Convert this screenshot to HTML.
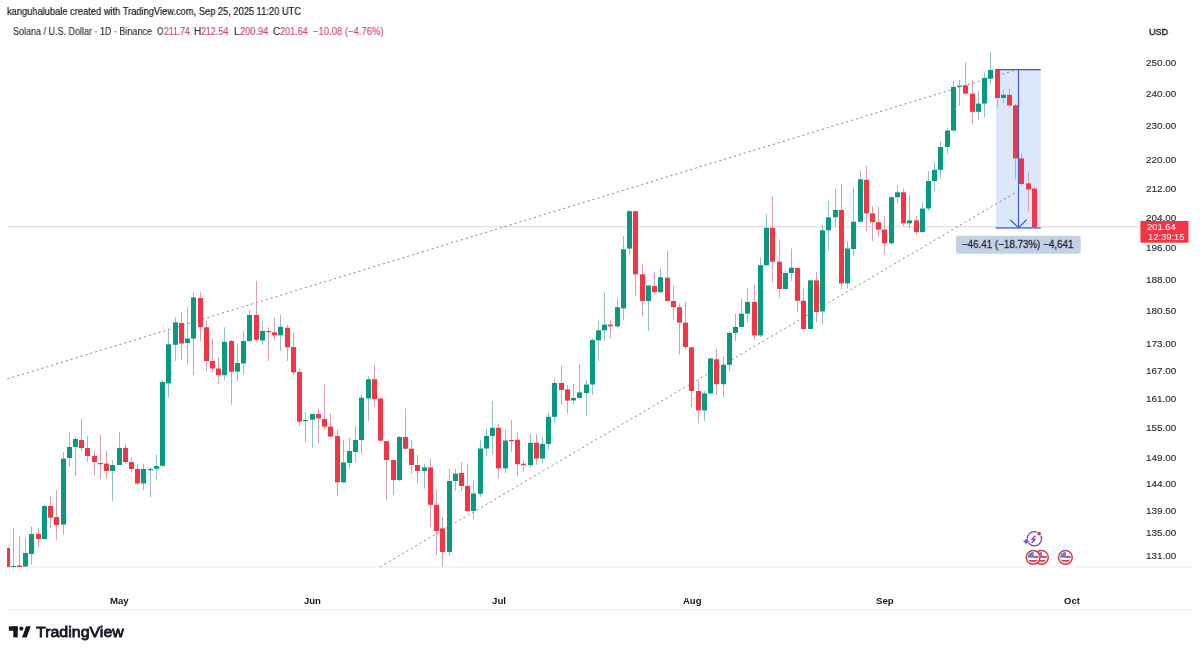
<!DOCTYPE html>
<html><head><meta charset="utf-8">
<style>
html,body{margin:0;padding:0;background:#fff;}
body{width:1200px;height:654px;position:relative;overflow:hidden;font-family:"Liberation Sans",sans-serif;color:#131722;}
.t{position:absolute;white-space:nowrap;line-height:1;transform-origin:0 0;will-change:transform;}
svg{position:absolute;left:0;top:0;}
</style></head>
<body>
<svg width="1200" height="654" viewBox="0 0 1200 654">
<defs><clipPath id="pane"><rect x="7" y="0" width="1133" height="567"/></clipPath></defs>
<rect x="7" y="566.5" width="1185" height="1" fill="#ebebeb"/>
<rect x="7" y="609.3" width="1185" height="1" fill="#ebebeb"/>
<rect x="8" y="226.2" width="1132" height="1" fill="#d9d9d9"/>
<rect x="996" y="69.5" width="44.7" height="158.5" fill="#dde7fb"/>
<line x1="7.3" y1="379" x2="1016" y2="70" stroke="#8e8e8e" stroke-width="1" stroke-dasharray="2.2 2.9"/>
<line x1="380" y1="567" x2="1016" y2="192.3" stroke="#8e8e8e" stroke-width="1" stroke-dasharray="2.2 2.9"/>
<g clip-path="url(#pane)">
<rect x="7" y="548.0" width="1" height="19.0" fill="#d8a2ad"/>
<rect x="5" y="548.0" width="5" height="19.0" fill="#f23645"/>
<rect x="13" y="528.0" width="1" height="39.0" fill="#93c4b7"/>
<rect x="11" y="566.0" width="5" height="1.2" fill="#089981"/>
<rect x="19" y="536.0" width="1" height="31.0" fill="#d8a2ad"/>
<rect x="17" y="565.5" width="5" height="1.5" fill="#f23645"/>
<rect x="25" y="538.0" width="1" height="29.0" fill="#93c4b7"/>
<rect x="23" y="553.0" width="5" height="13.5" fill="#089981"/>
<rect x="31" y="526.6" width="1" height="37.9" fill="#93c4b7"/>
<rect x="29" y="534.0" width="5" height="20.0" fill="#089981"/>
<rect x="38" y="528.0" width="1" height="19.0" fill="#d8a2ad"/>
<rect x="36" y="534.0" width="5" height="5.0" fill="#f23645"/>
<rect x="44" y="505.0" width="1" height="34.6" fill="#93c4b7"/>
<rect x="42" y="506.0" width="5" height="33.0" fill="#089981"/>
<rect x="50" y="496.0" width="1" height="32.0" fill="#d8a2ad"/>
<rect x="48" y="506.0" width="5" height="11.6" fill="#f23645"/>
<rect x="56" y="490.0" width="1" height="49.6" fill="#d8a2ad"/>
<rect x="54" y="517.0" width="5" height="8.0" fill="#f23645"/>
<rect x="63" y="452.0" width="1" height="82.6" fill="#93c4b7"/>
<rect x="61" y="458.6" width="5" height="66.0" fill="#089981"/>
<rect x="69" y="432.0" width="1" height="35.0" fill="#93c4b7"/>
<rect x="67" y="447.0" width="5" height="11.0" fill="#089981"/>
<rect x="75" y="437.0" width="1" height="39.0" fill="#93c4b7"/>
<rect x="73" y="439.0" width="5" height="8.0" fill="#089981"/>
<rect x="81" y="418.7" width="1" height="32.3" fill="#d8a2ad"/>
<rect x="79" y="440.0" width="5" height="8.0" fill="#f23645"/>
<rect x="87" y="436.0" width="1" height="26.0" fill="#d8a2ad"/>
<rect x="85" y="448.0" width="5" height="8.0" fill="#f23645"/>
<rect x="94" y="451.0" width="1" height="24.0" fill="#d8a2ad"/>
<rect x="92" y="456.0" width="5" height="6.0" fill="#f23645"/>
<rect x="100" y="435.0" width="1" height="44.0" fill="#d8a2ad"/>
<rect x="98" y="463.0" width="5" height="1.2" fill="#f23645"/>
<rect x="106" y="451.0" width="1" height="27.5" fill="#d8a2ad"/>
<rect x="104" y="463.6" width="5" height="7.4" fill="#f23645"/>
<rect x="112" y="460.0" width="1" height="41.0" fill="#93c4b7"/>
<rect x="110" y="465.0" width="5" height="6.0" fill="#089981"/>
<rect x="119" y="432.0" width="1" height="33.0" fill="#93c4b7"/>
<rect x="117" y="448.0" width="5" height="17.0" fill="#089981"/>
<rect x="125" y="443.6" width="1" height="20.4" fill="#d8a2ad"/>
<rect x="123" y="448.0" width="5" height="14.0" fill="#f23645"/>
<rect x="131" y="457.0" width="1" height="15.0" fill="#d8a2ad"/>
<rect x="129" y="462.0" width="5" height="7.0" fill="#f23645"/>
<rect x="137" y="464.0" width="1" height="21.0" fill="#d8a2ad"/>
<rect x="135" y="469.0" width="5" height="14.5" fill="#f23645"/>
<rect x="143" y="463.6" width="1" height="26.4" fill="#93c4b7"/>
<rect x="141" y="469.0" width="5" height="14.5" fill="#089981"/>
<rect x="150" y="467.0" width="1" height="30.0" fill="#93c4b7"/>
<rect x="148" y="469.0" width="5" height="1.2" fill="#089981"/>
<rect x="156" y="454.6" width="1" height="25.1" fill="#93c4b7"/>
<rect x="154" y="466.0" width="5" height="2.7" fill="#089981"/>
<rect x="162" y="380.0" width="1" height="87.0" fill="#93c4b7"/>
<rect x="160" y="382.0" width="5" height="83.8" fill="#089981"/>
<rect x="168" y="328.6" width="1" height="68.4" fill="#93c4b7"/>
<rect x="166" y="344.3" width="5" height="39.1" fill="#089981"/>
<rect x="175" y="317.4" width="1" height="43.6" fill="#93c4b7"/>
<rect x="173" y="322.4" width="5" height="22.4" fill="#089981"/>
<rect x="181" y="312.4" width="1" height="47.3" fill="#d8a2ad"/>
<rect x="179" y="323.0" width="5" height="20.5" fill="#f23645"/>
<rect x="187" y="307.4" width="1" height="57.3" fill="#93c4b7"/>
<rect x="185" y="338.6" width="5" height="4.4" fill="#089981"/>
<rect x="193" y="292.5" width="1" height="82.2" fill="#93c4b7"/>
<rect x="191" y="297.4" width="5" height="41.2" fill="#089981"/>
<rect x="200" y="292.5" width="1" height="48.5" fill="#d8a2ad"/>
<rect x="198" y="298.0" width="5" height="29.3" fill="#f23645"/>
<rect x="206" y="321.0" width="1" height="50.0" fill="#d8a2ad"/>
<rect x="204" y="327.3" width="5" height="33.7" fill="#f23645"/>
<rect x="212" y="338.6" width="1" height="33.4" fill="#d8a2ad"/>
<rect x="210" y="361.0" width="5" height="7.5" fill="#f23645"/>
<rect x="218" y="357.0" width="1" height="26.4" fill="#d8a2ad"/>
<rect x="216" y="368.5" width="5" height="6.7" fill="#f23645"/>
<rect x="224" y="327.3" width="1" height="52.4" fill="#93c4b7"/>
<rect x="222" y="341.8" width="5" height="33.4" fill="#089981"/>
<rect x="231" y="339.8" width="1" height="64.8" fill="#d8a2ad"/>
<rect x="229" y="341.0" width="5" height="30.7" fill="#f23645"/>
<rect x="237" y="343.5" width="1" height="37.5" fill="#93c4b7"/>
<rect x="235" y="363.0" width="5" height="8.7" fill="#089981"/>
<rect x="243" y="331.0" width="1" height="43.7" fill="#93c4b7"/>
<rect x="241" y="341.0" width="5" height="22.5" fill="#089981"/>
<rect x="249" y="310.0" width="1" height="32.3" fill="#93c4b7"/>
<rect x="247" y="315.0" width="5" height="26.0" fill="#089981"/>
<rect x="256" y="281.0" width="1" height="61.3" fill="#d8a2ad"/>
<rect x="254" y="315.0" width="5" height="24.8" fill="#f23645"/>
<rect x="262" y="321.0" width="1" height="23.8" fill="#93c4b7"/>
<rect x="260" y="331.0" width="5" height="9.5" fill="#089981"/>
<rect x="268" y="327.3" width="1" height="33.7" fill="#d8a2ad"/>
<rect x="266" y="331.0" width="5" height="1.2" fill="#f23645"/>
<rect x="274" y="317.4" width="1" height="22.4" fill="#d8a2ad"/>
<rect x="272" y="332.3" width="5" height="3.0" fill="#f23645"/>
<rect x="280" y="315.0" width="1" height="36.0" fill="#93c4b7"/>
<rect x="278" y="326.8" width="5" height="8.5" fill="#089981"/>
<rect x="287" y="324.9" width="1" height="36.1" fill="#d8a2ad"/>
<rect x="285" y="327.8" width="5" height="19.5" fill="#f23645"/>
<rect x="293" y="332.5" width="1" height="42.3" fill="#d8a2ad"/>
<rect x="291" y="347.0" width="5" height="25.3" fill="#f23645"/>
<rect x="299" y="368.6" width="1" height="57.4" fill="#d8a2ad"/>
<rect x="297" y="371.8" width="5" height="49.9" fill="#f23645"/>
<rect x="305" y="412.0" width="1" height="30.0" fill="#93c4b7"/>
<rect x="303" y="420.0" width="5" height="1.2" fill="#089981"/>
<rect x="312" y="413.4" width="1" height="34.6" fill="#93c4b7"/>
<rect x="310" y="414.0" width="5" height="5.7" fill="#089981"/>
<rect x="318" y="408.5" width="1" height="34.8" fill="#d8a2ad"/>
<rect x="316" y="414.0" width="5" height="4.4" fill="#f23645"/>
<rect x="324" y="384.3" width="1" height="45.3" fill="#d8a2ad"/>
<rect x="322" y="419.0" width="5" height="7.6" fill="#f23645"/>
<rect x="330" y="413.4" width="1" height="23.6" fill="#d8a2ad"/>
<rect x="328" y="426.6" width="5" height="10.0" fill="#f23645"/>
<rect x="337" y="429.6" width="1" height="66.4" fill="#d8a2ad"/>
<rect x="335" y="436.0" width="5" height="46.3" fill="#f23645"/>
<rect x="343" y="439.6" width="1" height="43.4" fill="#93c4b7"/>
<rect x="341" y="462.4" width="5" height="19.9" fill="#089981"/>
<rect x="349" y="437.5" width="1" height="29.9" fill="#93c4b7"/>
<rect x="347" y="451.0" width="5" height="12.0" fill="#089981"/>
<rect x="355" y="426.0" width="1" height="36.4" fill="#93c4b7"/>
<rect x="353" y="440.0" width="5" height="12.0" fill="#089981"/>
<rect x="361" y="394.8" width="1" height="58.9" fill="#93c4b7"/>
<rect x="359" y="397.7" width="5" height="42.3" fill="#089981"/>
<rect x="368" y="376.0" width="1" height="45.0" fill="#93c4b7"/>
<rect x="366" y="379.3" width="5" height="19.2" fill="#089981"/>
<rect x="374" y="364.4" width="1" height="42.3" fill="#d8a2ad"/>
<rect x="372" y="379.3" width="5" height="19.9" fill="#f23645"/>
<rect x="380" y="397.2" width="1" height="44.4" fill="#d8a2ad"/>
<rect x="378" y="398.5" width="5" height="42.2" fill="#f23645"/>
<rect x="386" y="440.9" width="1" height="58.9" fill="#d8a2ad"/>
<rect x="384" y="441.2" width="5" height="18.8" fill="#f23645"/>
<rect x="393" y="460.0" width="1" height="34.8" fill="#d8a2ad"/>
<rect x="391" y="460.0" width="5" height="20.0" fill="#f23645"/>
<rect x="399" y="435.9" width="1" height="45.1" fill="#93c4b7"/>
<rect x="397" y="437.0" width="5" height="43.0" fill="#089981"/>
<rect x="405" y="408.5" width="1" height="41.1" fill="#d8a2ad"/>
<rect x="403" y="437.0" width="5" height="11.7" fill="#f23645"/>
<rect x="411" y="440.0" width="1" height="33.6" fill="#d8a2ad"/>
<rect x="409" y="448.7" width="5" height="16.3" fill="#f23645"/>
<rect x="417" y="455.0" width="1" height="28.6" fill="#d8a2ad"/>
<rect x="415" y="465.0" width="5" height="6.0" fill="#f23645"/>
<rect x="424" y="463.6" width="1" height="25.0" fill="#93c4b7"/>
<rect x="422" y="467.4" width="5" height="3.6" fill="#089981"/>
<rect x="430" y="458.7" width="1" height="68.3" fill="#d8a2ad"/>
<rect x="428" y="467.4" width="5" height="37.4" fill="#f23645"/>
<rect x="436" y="489.8" width="1" height="64.8" fill="#d8a2ad"/>
<rect x="434" y="504.8" width="5" height="26.2" fill="#f23645"/>
<rect x="442" y="517.0" width="1" height="50.0" fill="#d8a2ad"/>
<rect x="440" y="528.4" width="5" height="23.6" fill="#f23645"/>
<rect x="449" y="468.6" width="1" height="87.2" fill="#93c4b7"/>
<rect x="447" y="481.0" width="5" height="71.0" fill="#089981"/>
<rect x="455" y="468.6" width="1" height="22.4" fill="#93c4b7"/>
<rect x="453" y="473.6" width="5" height="7.4" fill="#089981"/>
<rect x="461" y="462.4" width="1" height="28.6" fill="#d8a2ad"/>
<rect x="459" y="472.9" width="5" height="13.1" fill="#f23645"/>
<rect x="467" y="463.6" width="1" height="48.6" fill="#d8a2ad"/>
<rect x="465" y="486.0" width="5" height="25.0" fill="#f23645"/>
<rect x="473" y="479.8" width="1" height="39.9" fill="#93c4b7"/>
<rect x="471" y="493.5" width="5" height="17.5" fill="#089981"/>
<rect x="480" y="439.8" width="1" height="57.2" fill="#93c4b7"/>
<rect x="478" y="448.5" width="5" height="45.3" fill="#089981"/>
<rect x="486" y="428.6" width="1" height="27.4" fill="#93c4b7"/>
<rect x="484" y="436.0" width="5" height="12.5" fill="#089981"/>
<rect x="492" y="401.0" width="1" height="53.7" fill="#93c4b7"/>
<rect x="490" y="427.8" width="5" height="8.2" fill="#089981"/>
<rect x="498" y="423.6" width="1" height="54.8" fill="#d8a2ad"/>
<rect x="496" y="427.8" width="5" height="40.6" fill="#f23645"/>
<rect x="505" y="429.8" width="1" height="43.6" fill="#93c4b7"/>
<rect x="503" y="440.5" width="5" height="27.9" fill="#089981"/>
<rect x="511" y="419.8" width="1" height="32.4" fill="#d8a2ad"/>
<rect x="509" y="440.0" width="5" height="1.2" fill="#f23645"/>
<rect x="517" y="432.3" width="1" height="43.7" fill="#d8a2ad"/>
<rect x="515" y="439.8" width="5" height="24.4" fill="#f23645"/>
<rect x="523" y="459.7" width="1" height="12.5" fill="#d8a2ad"/>
<rect x="521" y="463.7" width="5" height="1.5" fill="#f23645"/>
<rect x="530" y="433.5" width="1" height="33.7" fill="#93c4b7"/>
<rect x="528" y="442.8" width="5" height="22.4" fill="#089981"/>
<rect x="536" y="434.3" width="1" height="30.4" fill="#d8a2ad"/>
<rect x="534" y="442.8" width="5" height="15.7" fill="#f23645"/>
<rect x="542" y="436.8" width="1" height="26.6" fill="#93c4b7"/>
<rect x="540" y="444.0" width="5" height="14.5" fill="#089981"/>
<rect x="548" y="412.4" width="1" height="37.3" fill="#93c4b7"/>
<rect x="546" y="416.8" width="5" height="27.2" fill="#089981"/>
<rect x="554" y="378.7" width="1" height="43.6" fill="#93c4b7"/>
<rect x="552" y="383.0" width="5" height="33.8" fill="#089981"/>
<rect x="561" y="366.0" width="1" height="38.9" fill="#d8a2ad"/>
<rect x="559" y="383.0" width="5" height="7.0" fill="#f23645"/>
<rect x="567" y="385.0" width="1" height="28.6" fill="#d8a2ad"/>
<rect x="565" y="389.4" width="5" height="11.2" fill="#f23645"/>
<rect x="573" y="383.7" width="1" height="20.7" fill="#93c4b7"/>
<rect x="571" y="397.9" width="5" height="2.5" fill="#089981"/>
<rect x="579" y="364.0" width="1" height="34.7" fill="#93c4b7"/>
<rect x="577" y="392.4" width="5" height="5.5" fill="#089981"/>
<rect x="586" y="380.0" width="1" height="36.0" fill="#93c4b7"/>
<rect x="584" y="384.5" width="5" height="8.5" fill="#089981"/>
<rect x="592" y="338.0" width="1" height="57.0" fill="#93c4b7"/>
<rect x="590" y="340.0" width="5" height="44.5" fill="#089981"/>
<rect x="598" y="320.9" width="1" height="40.1" fill="#93c4b7"/>
<rect x="596" y="330.3" width="5" height="10.0" fill="#089981"/>
<rect x="604" y="293.4" width="1" height="47.4" fill="#93c4b7"/>
<rect x="602" y="324.6" width="5" height="5.7" fill="#089981"/>
<rect x="610" y="319.6" width="1" height="18.7" fill="#d8a2ad"/>
<rect x="608" y="324.6" width="5" height="1.7" fill="#f23645"/>
<rect x="617" y="298.4" width="1" height="29.9" fill="#93c4b7"/>
<rect x="615" y="307.2" width="5" height="19.1" fill="#089981"/>
<rect x="623" y="236.1" width="1" height="83.5" fill="#93c4b7"/>
<rect x="621" y="249.3" width="5" height="59.1" fill="#089981"/>
<rect x="629" y="210.0" width="1" height="44.8" fill="#93c4b7"/>
<rect x="627" y="211.2" width="5" height="37.4" fill="#089981"/>
<rect x="635" y="210.5" width="1" height="85.5" fill="#d8a2ad"/>
<rect x="633" y="211.2" width="5" height="63.1" fill="#f23645"/>
<rect x="642" y="263.5" width="1" height="52.4" fill="#d8a2ad"/>
<rect x="640" y="274.3" width="5" height="26.7" fill="#f23645"/>
<rect x="648" y="284.7" width="1" height="46.1" fill="#93c4b7"/>
<rect x="646" y="285.5" width="5" height="15.5" fill="#089981"/>
<rect x="654" y="272.3" width="1" height="22.4" fill="#d8a2ad"/>
<rect x="652" y="286.0" width="5" height="6.2" fill="#f23645"/>
<rect x="660" y="268.5" width="1" height="24.9" fill="#93c4b7"/>
<rect x="658" y="277.2" width="5" height="15.0" fill="#089981"/>
<rect x="667" y="251.0" width="1" height="51.2" fill="#d8a2ad"/>
<rect x="665" y="277.7" width="5" height="23.3" fill="#f23645"/>
<rect x="673" y="286.0" width="1" height="33.6" fill="#d8a2ad"/>
<rect x="671" y="301.0" width="5" height="6.2" fill="#f23645"/>
<rect x="679" y="303.4" width="1" height="51.1" fill="#d8a2ad"/>
<rect x="677" y="307.2" width="5" height="15.4" fill="#f23645"/>
<rect x="685" y="301.7" width="1" height="47.8" fill="#d8a2ad"/>
<rect x="683" y="322.6" width="5" height="24.4" fill="#f23645"/>
<rect x="691" y="346.8" width="1" height="60.2" fill="#d8a2ad"/>
<rect x="689" y="347.3" width="5" height="43.7" fill="#f23645"/>
<rect x="698" y="381.0" width="1" height="42.3" fill="#d8a2ad"/>
<rect x="696" y="391.0" width="5" height="19.4" fill="#f23645"/>
<rect x="704" y="391.0" width="1" height="29.8" fill="#93c4b7"/>
<rect x="702" y="393.4" width="5" height="17.0" fill="#089981"/>
<rect x="710" y="357.3" width="1" height="37.4" fill="#93c4b7"/>
<rect x="708" y="358.5" width="5" height="34.9" fill="#089981"/>
<rect x="716" y="348.6" width="1" height="46.1" fill="#d8a2ad"/>
<rect x="714" y="359.3" width="5" height="24.9" fill="#f23645"/>
<rect x="723" y="356.0" width="1" height="41.2" fill="#93c4b7"/>
<rect x="721" y="364.8" width="5" height="19.4" fill="#089981"/>
<rect x="729" y="331.0" width="1" height="40.0" fill="#93c4b7"/>
<rect x="727" y="332.9" width="5" height="31.9" fill="#089981"/>
<rect x="735" y="313.7" width="1" height="27.3" fill="#93c4b7"/>
<rect x="733" y="326.9" width="5" height="6.0" fill="#089981"/>
<rect x="741" y="298.7" width="1" height="28.7" fill="#93c4b7"/>
<rect x="739" y="313.7" width="5" height="13.2" fill="#089981"/>
<rect x="747" y="288.4" width="1" height="33.6" fill="#93c4b7"/>
<rect x="745" y="302.0" width="5" height="11.7" fill="#089981"/>
<rect x="754" y="284.6" width="1" height="55.2" fill="#d8a2ad"/>
<rect x="752" y="302.0" width="5" height="33.4" fill="#f23645"/>
<rect x="760" y="257.2" width="1" height="79.8" fill="#93c4b7"/>
<rect x="758" y="265.2" width="5" height="70.2" fill="#089981"/>
<rect x="766" y="214.4" width="1" height="51.6" fill="#93c4b7"/>
<rect x="764" y="227.8" width="5" height="37.4" fill="#089981"/>
<rect x="772" y="196.2" width="1" height="85.8" fill="#d8a2ad"/>
<rect x="770" y="227.8" width="5" height="33.9" fill="#f23645"/>
<rect x="779" y="240.3" width="1" height="57.3" fill="#d8a2ad"/>
<rect x="777" y="261.7" width="5" height="27.3" fill="#f23645"/>
<rect x="785" y="271.0" width="1" height="18.6" fill="#93c4b7"/>
<rect x="783" y="273.0" width="5" height="16.0" fill="#089981"/>
<rect x="791" y="248.5" width="1" height="32.5" fill="#93c4b7"/>
<rect x="789" y="267.7" width="5" height="5.3" fill="#089981"/>
<rect x="797" y="267.2" width="1" height="44.8" fill="#d8a2ad"/>
<rect x="795" y="268.0" width="5" height="32.8" fill="#f23645"/>
<rect x="803" y="288.4" width="1" height="41.1" fill="#d8a2ad"/>
<rect x="801" y="300.8" width="5" height="28.2" fill="#f23645"/>
<rect x="810" y="279.6" width="1" height="49.9" fill="#93c4b7"/>
<rect x="808" y="280.4" width="5" height="48.6" fill="#089981"/>
<rect x="816" y="272.2" width="1" height="49.8" fill="#d8a2ad"/>
<rect x="814" y="280.4" width="5" height="31.6" fill="#f23645"/>
<rect x="822" y="224.8" width="1" height="99.7" fill="#93c4b7"/>
<rect x="820" y="230.3" width="5" height="81.2" fill="#089981"/>
<rect x="828" y="201.1" width="1" height="49.9" fill="#93c4b7"/>
<rect x="826" y="217.3" width="5" height="13.0" fill="#089981"/>
<rect x="835" y="188.7" width="1" height="38.6" fill="#93c4b7"/>
<rect x="833" y="209.9" width="5" height="7.4" fill="#089981"/>
<rect x="841" y="183.7" width="1" height="105.9" fill="#d8a2ad"/>
<rect x="839" y="209.9" width="5" height="73.5" fill="#f23645"/>
<rect x="847" y="241.0" width="1" height="47.4" fill="#93c4b7"/>
<rect x="845" y="248.5" width="5" height="34.9" fill="#089981"/>
<rect x="853" y="187.3" width="1" height="68.5" fill="#93c4b7"/>
<rect x="851" y="221.7" width="5" height="27.3" fill="#089981"/>
<rect x="860" y="171.0" width="1" height="51.2" fill="#93c4b7"/>
<rect x="858" y="179.3" width="5" height="42.4" fill="#089981"/>
<rect x="866" y="166.0" width="1" height="65.0" fill="#d8a2ad"/>
<rect x="864" y="179.8" width="5" height="33.6" fill="#f23645"/>
<rect x="872" y="206.0" width="1" height="34.9" fill="#d8a2ad"/>
<rect x="870" y="213.4" width="5" height="8.8" fill="#f23645"/>
<rect x="878" y="207.2" width="1" height="29.8" fill="#d8a2ad"/>
<rect x="876" y="222.2" width="5" height="7.4" fill="#f23645"/>
<rect x="884" y="216.0" width="1" height="38.6" fill="#d8a2ad"/>
<rect x="882" y="229.6" width="5" height="13.7" fill="#f23645"/>
<rect x="891" y="196.0" width="1" height="48.6" fill="#93c4b7"/>
<rect x="889" y="197.2" width="5" height="46.1" fill="#089981"/>
<rect x="897" y="184.8" width="1" height="18.7" fill="#93c4b7"/>
<rect x="895" y="192.3" width="5" height="4.9" fill="#089981"/>
<rect x="903" y="188.5" width="1" height="37.5" fill="#d8a2ad"/>
<rect x="901" y="192.3" width="5" height="31.1" fill="#f23645"/>
<rect x="909" y="194.8" width="1" height="33.6" fill="#93c4b7"/>
<rect x="907" y="220.4" width="5" height="3.0" fill="#089981"/>
<rect x="916" y="216.0" width="1" height="18.6" fill="#d8a2ad"/>
<rect x="914" y="220.4" width="5" height="11.7" fill="#f23645"/>
<rect x="922" y="202.2" width="1" height="30.4" fill="#93c4b7"/>
<rect x="920" y="208.5" width="5" height="23.6" fill="#089981"/>
<rect x="928" y="171.0" width="1" height="40.0" fill="#93c4b7"/>
<rect x="926" y="181.0" width="5" height="27.5" fill="#089981"/>
<rect x="934" y="162.4" width="1" height="28.6" fill="#93c4b7"/>
<rect x="932" y="169.8" width="5" height="11.2" fill="#089981"/>
<rect x="940" y="141.2" width="1" height="36.1" fill="#93c4b7"/>
<rect x="938" y="147.0" width="5" height="22.8" fill="#089981"/>
<rect x="947" y="127.5" width="1" height="26.1" fill="#93c4b7"/>
<rect x="945" y="130.5" width="5" height="16.5" fill="#089981"/>
<rect x="953" y="81.0" width="1" height="50.7" fill="#93c4b7"/>
<rect x="951" y="86.9" width="5" height="43.6" fill="#089981"/>
<rect x="959" y="80.0" width="1" height="26.0" fill="#93c4b7"/>
<rect x="957" y="85.6" width="5" height="1.3" fill="#089981"/>
<rect x="965" y="62.4" width="1" height="32.4" fill="#d8a2ad"/>
<rect x="963" y="85.4" width="5" height="8.2" fill="#f23645"/>
<rect x="972" y="80.3" width="1" height="43.9" fill="#d8a2ad"/>
<rect x="970" y="93.6" width="5" height="18.2" fill="#f23645"/>
<rect x="978" y="91.0" width="1" height="28.8" fill="#93c4b7"/>
<rect x="976" y="103.6" width="5" height="8.2" fill="#089981"/>
<rect x="984" y="72.4" width="1" height="44.9" fill="#93c4b7"/>
<rect x="982" y="77.9" width="5" height="25.7" fill="#089981"/>
<rect x="990" y="52.0" width="1" height="32.6" fill="#93c4b7"/>
<rect x="988" y="70.0" width="5" height="8.6" fill="#089981"/>
<rect x="997" y="68.7" width="1" height="38.9" fill="#d8a2ad"/>
<rect x="995" y="69.4" width="5" height="28.6" fill="#f23645"/>
<rect x="1003" y="90.5" width="1" height="13.0" fill="#93c4b7"/>
<rect x="1001" y="94.8" width="5" height="3.2" fill="#089981"/>
<rect x="1009" y="88.5" width="1" height="18.8" fill="#d8a2ad"/>
<rect x="1007" y="94.8" width="5" height="10.6" fill="#f23645"/>
<rect x="1015" y="103.6" width="1" height="75.9" fill="#d8a2ad"/>
<rect x="1013" y="105.4" width="5" height="53.0" fill="#f23645"/>
<rect x="1021" y="153.7" width="1" height="32.3" fill="#d8a2ad"/>
<rect x="1019" y="158.4" width="5" height="25.6" fill="#f23645"/>
<rect x="1028" y="172.0" width="1" height="39.5" fill="#d8a2ad"/>
<rect x="1026" y="183.4" width="5" height="6.1" fill="#f23645"/>
<rect x="1034" y="186.7" width="1" height="40.3" fill="#d8a2ad"/>
<rect x="1032" y="188.6" width="5" height="38.4" fill="#f23645"/>
</g>
<rect x="995.5" y="69" width="45.2" height="1.3" fill="#3f5fcf"/>
<rect x="995.5" y="227.3" width="45.2" height="1.3" fill="#3f5fcf"/>
<rect x="1017.9" y="69.5" width="1.2" height="158" fill="#3f5fcf"/>
<polyline points="1010.2,219.7 1018.5,227.6 1026.6,219.7" fill="none" stroke="#3f5fcf" stroke-width="1.2"/>
<!-- TV logo -->
<g fill="#131722">
<rect x="8.8" y="626.3" width="8.9" height="4.4"/>
<rect x="13.3" y="626.3" width="4.4" height="11.1"/>
<circle cx="21.3" cy="628.6" r="2.05"/>
<polygon points="26.1,626.3 30.7,626.3 26.7,637.4 22,637.4"/>
</g>
<!-- events -->
<defs>
<clipPath id="fl1"><circle cx="0" cy="0" r="5.4"/></clipPath>
<g id="coin">
<circle cx="0" cy="0" r="6.9" fill="#fff" stroke="#d43a4c" stroke-width="1.5"/>
<g clip-path="url(#fl1)">
<rect x="-6" y="-6" width="12" height="12" fill="#fff"/>
<rect x="0" y="-1.4" width="6" height="2" fill="#e0404f"/>
<rect x="-6" y="2.6" width="12" height="1.9" fill="#e0404f"/>
<rect x="-6" y="-6" width="6.6" height="6.4" fill="#4a8bd6"/>
</g>
</g>
</defs>
<use href="#coin" x="1041.4" y="557.3"/>
<use href="#coin" x="1033.1" y="557.3"/>
<use href="#coin" x="1065.4" y="557.3"/>
<circle cx="1034.4" cy="538.7" r="7.1" fill="none" stroke="#7f3f9f" stroke-width="1.2"/>
<circle cx="1039.1" cy="533.6" r="2.6" fill="#fff"/>
<circle cx="1039.1" cy="533.6" r="1.9" fill="#d93a55"/>
<polyline points="1035.4,535.8 1032.0,539.3 1035.0,539.3 1031.6,542.8" fill="none" stroke="#8e3cc0" stroke-width="1.3" stroke-linejoin="miter"/>
<path d="M1026.2,537.6 Q1026.9,540.8 1030.1,541.5 Q1026.9,542.2 1026.2,545.4 Q1025.5,542.2 1022.3,541.5 Q1025.5,540.8 1026.2,537.6Z" fill="#6a4fe6" stroke="#fff" stroke-width="0.6"/>
<rect x="956" y="235.7" width="124.7" height="18" rx="2" fill="#c3d0e6"/>
<rect x="1140.4" y="220.9" width="48.1" height="21.8" fill="#f23645"/>
</svg>
<div id="h1" class="t" style="left:7.48px;top:6.97px;font-size:10.2px;font-weight:normal;-webkit-text-stroke:0.2px #131722;color:#131722;transform:scaleX(0.9135);">kanguhalubale created with TradingView.com, Sep 25, 2025 11:20 UTC</div>
<div id="h2a" class="t" style="left:12.67px;top:26.64px;font-size:10.0px;font-weight:normal;-webkit-text-stroke:0.15px #2f3241;color:#2f3241;transform:scaleX(0.8991);">Solana / U.S. Dollar · 1D · Binance</div>
<div id="h2o" class="t" style="left:156.73px;top:26.64px;font-size:10.0px;font-weight:normal;-webkit-text-stroke:0.15px #2f3241;color:#2f3241;transform:scaleX(0.8005);">O</div>
<div id="h2ov" class="t" style="left:163.56px;top:26.64px;font-size:10.0px;font-weight:normal;-webkit-text-stroke:0.15px #cf466c;color:#cf466c;transform:scaleX(0.8618);">211.74</div>
<div id="h2h" class="t" style="left:193.86px;top:26.64px;font-size:10.0px;font-weight:normal;-webkit-text-stroke:0.15px #2f3241;color:#2f3241;transform:scaleX(1.0116);">H</div>
<div id="h2hv" class="t" style="left:201.44px;top:26.64px;font-size:10.0px;font-weight:normal;-webkit-text-stroke:0.15px #cf466c;color:#cf466c;transform:scaleX(0.8920);">212.54</div>
<div id="h2l" class="t" style="left:233.66px;top:26.64px;font-size:10.0px;font-weight:normal;-webkit-text-stroke:0.15px #2f3241;color:#2f3241;transform:scaleX(1.0077);">L</div>
<div id="h2lv" class="t" style="left:239.53px;top:26.64px;font-size:10.0px;font-weight:normal;-webkit-text-stroke:0.15px #cf466c;color:#cf466c;transform:scaleX(0.9222);">200.94</div>
<div id="h2c" class="t" style="left:273.25px;top:26.64px;font-size:10.0px;font-weight:normal;-webkit-text-stroke:0.15px #2f3241;color:#2f3241;transform:scaleX(0.9896);">C</div>
<div id="h2cv" class="t" style="left:280.13px;top:26.64px;font-size:10.0px;font-weight:normal;-webkit-text-stroke:0.15px #cf466c;color:#cf466c;transform:scaleX(0.9088);">201.64</div>
<div id="h2d" class="t" style="left:312.83px;top:26.64px;font-size:10.0px;font-weight:normal;-webkit-text-stroke:0.15px #cf466c;color:#cf466c;transform:scaleX(0.9472);">−10.08 (−4.76%)</div>
<div id="usd" class="t" style="left:1148.53px;top:27.30px;font-size:9.8px;font-weight:normal;-webkit-text-stroke:0.35px #131722;color:#131722;transform:scaleX(0.9281);">USD</div>
<div id="may" class="t" style="left:109.65px;top:596.46px;font-size:9.5px;font-weight:bold;color:#131722;transform:scaleX(1.0087);">May</div>
<div id="jun" class="t" style="left:303.78px;top:596.46px;font-size:9.5px;font-weight:bold;color:#131722;transform:scaleX(1.0000);">Jun</div>
<div id="jul" class="t" style="left:491.77px;top:596.46px;font-size:9.5px;font-weight:bold;color:#131722;transform:scaleX(1.0213);">Jul</div>
<div id="aug" class="t" style="left:682.76px;top:596.46px;font-size:9.5px;font-weight:bold;color:#131722;transform:scaleX(0.9755);">Aug</div>
<div id="sep" class="t" style="left:875.90px;top:596.46px;font-size:9.5px;font-weight:bold;color:#131722;transform:scaleX(1.0148);">Sep</div>
<div id="oct" class="t" style="left:1063.51px;top:596.46px;font-size:9.5px;font-weight:bold;color:#131722;transform:scaleX(0.9966);">Oct</div>
<div id="tv" class="t" style="left:36.09px;top:624.15px;font-size:15.3px;font-weight:normal;-webkit-text-stroke:0.8px #131722;color:#131722;transform:scaleX(1.0429);">TradingView</div>
<div id="meas" class="t" style="left:962.23px;top:239.16px;font-size:10.8px;font-weight:normal;-webkit-text-stroke:0.3px #1e2230;color:#1e2230;transform:scaleX(0.9074);">−46.41 (−18.73%) −4,641</div>
<div id="tag1" class="t" style="left:1146.80px;top:221.94px;font-size:9.4px;font-weight:normal;color:#ffffff;transform:scaleX(1.0000);">201.64</div>
<div id="tag2" class="t" style="left:1147.70px;top:232.14px;font-size:9.4px;font-weight:normal;color:#ffffff;transform:scaleX(1.0000);">12:39:15</div>
<div id="pl" class="t" style="left:1146.10px;top:57.79px;font-size:9.9px;font-weight:normal;-webkit-text-stroke:0.15px #2a2e39;color:#2a2e39;transform:scaleX(1.0039);">250.00</div>
<div id="pl240" class="t" style="left:1146.10px;top:88.94px;font-size:9.9px;font-weight:normal;-webkit-text-stroke:0.15px #2a2e39;color:#2a2e39;transform:scaleX(1.0039);">240.00</div>
<div id="pl230" class="t" style="left:1146.10px;top:121.42px;font-size:9.9px;font-weight:normal;-webkit-text-stroke:0.15px #2a2e39;color:#2a2e39;transform:scaleX(1.0039);">230.00</div>
<div id="pl220" class="t" style="left:1146.10px;top:155.34px;font-size:9.9px;font-weight:normal;-webkit-text-stroke:0.15px #2a2e39;color:#2a2e39;transform:scaleX(1.0039);">220.00</div>
<div id="pl212" class="t" style="left:1146.10px;top:183.61px;font-size:9.9px;font-weight:normal;-webkit-text-stroke:0.15px #2a2e39;color:#2a2e39;transform:scaleX(1.0039);">212.00</div>
<div id="pl204" class="t" style="left:1146.10px;top:212.96px;font-size:9.9px;font-weight:normal;-webkit-text-stroke:0.15px #2a2e39;color:#2a2e39;transform:scaleX(1.0039);">204.00</div>
<div id="pl196" class="t" style="left:1146.10px;top:243.49px;font-size:9.9px;font-weight:normal;-webkit-text-stroke:0.15px #2a2e39;color:#2a2e39;transform:scaleX(1.0039);">196.00</div>
<div id="pl188" class="t" style="left:1146.10px;top:275.29px;font-size:9.9px;font-weight:normal;-webkit-text-stroke:0.15px #2a2e39;color:#2a2e39;transform:scaleX(1.0039);">188.00</div>
<div id="pl180.5" class="t" style="left:1146.10px;top:306.36px;font-size:9.9px;font-weight:normal;-webkit-text-stroke:0.15px #2a2e39;color:#2a2e39;transform:scaleX(1.0039);">180.50</div>
<div id="pl173" class="t" style="left:1146.10px;top:338.74px;font-size:9.9px;font-weight:normal;-webkit-text-stroke:0.15px #2a2e39;color:#2a2e39;transform:scaleX(1.0039);">173.00</div>
<div id="pl167" class="t" style="left:1146.10px;top:365.68px;font-size:9.9px;font-weight:normal;-webkit-text-stroke:0.15px #2a2e39;color:#2a2e39;transform:scaleX(1.0039);">167.00</div>
<div id="pl161" class="t" style="left:1146.10px;top:393.60px;font-size:9.9px;font-weight:normal;-webkit-text-stroke:0.15px #2a2e39;color:#2a2e39;transform:scaleX(1.0039);">161.00</div>
<div id="pl155" class="t" style="left:1146.10px;top:422.58px;font-size:9.9px;font-weight:normal;-webkit-text-stroke:0.15px #2a2e39;color:#2a2e39;transform:scaleX(1.0039);">155.00</div>
<div id="pl149" class="t" style="left:1146.10px;top:452.71px;font-size:9.9px;font-weight:normal;-webkit-text-stroke:0.15px #2a2e39;color:#2a2e39;transform:scaleX(1.0039);">149.00</div>
<div id="pl144" class="t" style="left:1146.10px;top:478.76px;font-size:9.9px;font-weight:normal;-webkit-text-stroke:0.15px #2a2e39;color:#2a2e39;transform:scaleX(1.0039);">144.00</div>
<div id="pl139" class="t" style="left:1146.10px;top:505.72px;font-size:9.9px;font-weight:normal;-webkit-text-stroke:0.15px #2a2e39;color:#2a2e39;transform:scaleX(1.0039);">139.00</div>
<div id="pl135" class="t" style="left:1146.10px;top:528.00px;font-size:9.9px;font-weight:normal;-webkit-text-stroke:0.15px #2a2e39;color:#2a2e39;transform:scaleX(1.0039);">135.00</div>
<div id="pl131" class="t" style="left:1146.10px;top:550.96px;font-size:9.9px;font-weight:normal;-webkit-text-stroke:0.15px #2a2e39;color:#2a2e39;transform:scaleX(1.0039);">131.00</div>
</body></html>
